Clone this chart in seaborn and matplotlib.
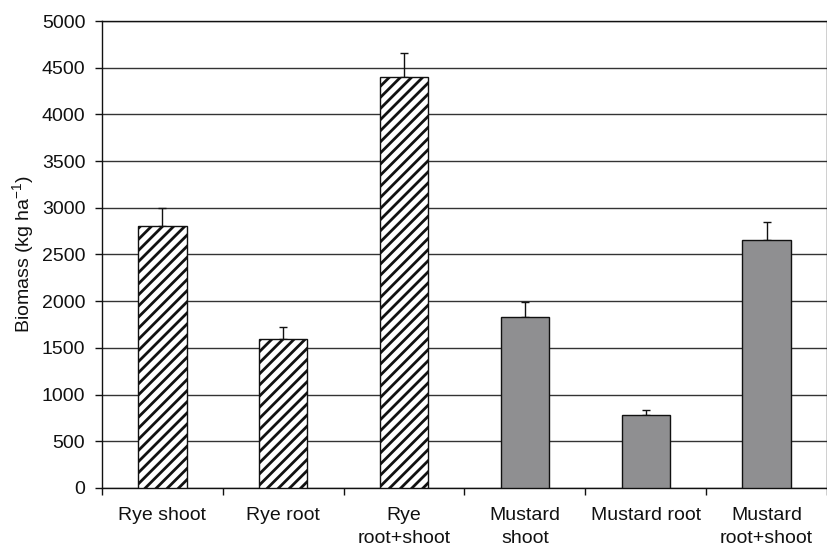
import matplotlib
matplotlib.use("Agg")
import matplotlib.pyplot as plt
import seaborn as sns
import numpy as np
import pandas as pd

categories = ["Rye shoot", "Rye root", "Rye\nroot+shoot",
              "Mustard\nshoot", "Mustard root", "Mustard\nroot+shoot"]
biomass = [2800, 1590, 4400, 1830, 780, 2650]
upper_err = [195, 130, 260, 160, 60, 200]
crop = ["Rye", "Rye", "Rye", "Mustard", "Mustard", "Mustard"]
y_ticks = list(range(0, 5001, 500))

sns.set_theme(style="white")
plt.rcParams["font.family"] = ["Liberation Sans", "DejaVu Sans"]
plt.rcParams["hatch.linewidth"] = 2.0
plt.rcParams["hatch.color"] = "#111111"

df = pd.DataFrame({"category": categories, "biomass": biomass, "crop": crop})

fig = plt.figure(figsize=(8.28, 5.5), dpi=100)
ax = fig.add_axes([102 / 828, 1 - 488 / 550, (827 - 102) / 828, (488 - 21) / 550])

sns.barplot(data=df, x="category", y="biomass", hue="crop",
            palette={"Rye": "white", "Mustard": "#8f8f91"},
            width=0.4, dodge=False, edgecolor="#111111", linewidth=1.0,
            legend=False, ax=ax, zorder=3)

for p in ax.patches:
    if p.get_facecolor()[:3] == (1.0, 1.0, 1.0):
        p.set_hatch("///")

centers = np.arange(len(categories))
ax.errorbar(centers, biomass, yerr=[np.zeros(len(upper_err)), upper_err],
            fmt="none", ecolor="#111111", elinewidth=1.0, capsize=2.6,
            capthick=1.0, zorder=2)

fs = 14
ax.set_xlim(-0.5, len(categories) - 0.5)
ax.set_ylim(0, 5000)
ax.set_yticks(y_ticks)
ax.set_yticklabels([str(v) for v in y_ticks], fontsize=fs, color="#111111")
ax.set_xticks(centers)
ax.set_xticklabels(categories, fontsize=fs, color="#111111", linespacing=1.4)
ax.set_xticks(np.arange(-0.5, len(categories), 1.0), minor=True)
ax.tick_params(axis="x", which="major", length=0, pad=14)
ax.tick_params(axis="x", which="minor", length=5, width=1, color="#111111",
               direction="out", bottom=True)
ax.tick_params(axis="y", length=5, width=1, color="#111111", direction="out",
               left=True, pad=7)

ax.yaxis.grid(True, color="#333333", linewidth=1.0)
ax.set_axisbelow(True)

for side in ["left", "bottom", "right", "top"]:
    ax.spines[side].set_visible(True)
    ax.spines[side].set_color("#111111")
    ax.spines[side].set_linewidth(1.0)

ax.set_xlabel("")
ax.set_ylabel("Biomass (kg ha$^{\\mathregular{-1}}$)", fontsize=fs,
              color="#111111")
ax.yaxis.set_label_coords(-0.089, 0.5)

fig.savefig("out.png", dpi=100, facecolor="white")
